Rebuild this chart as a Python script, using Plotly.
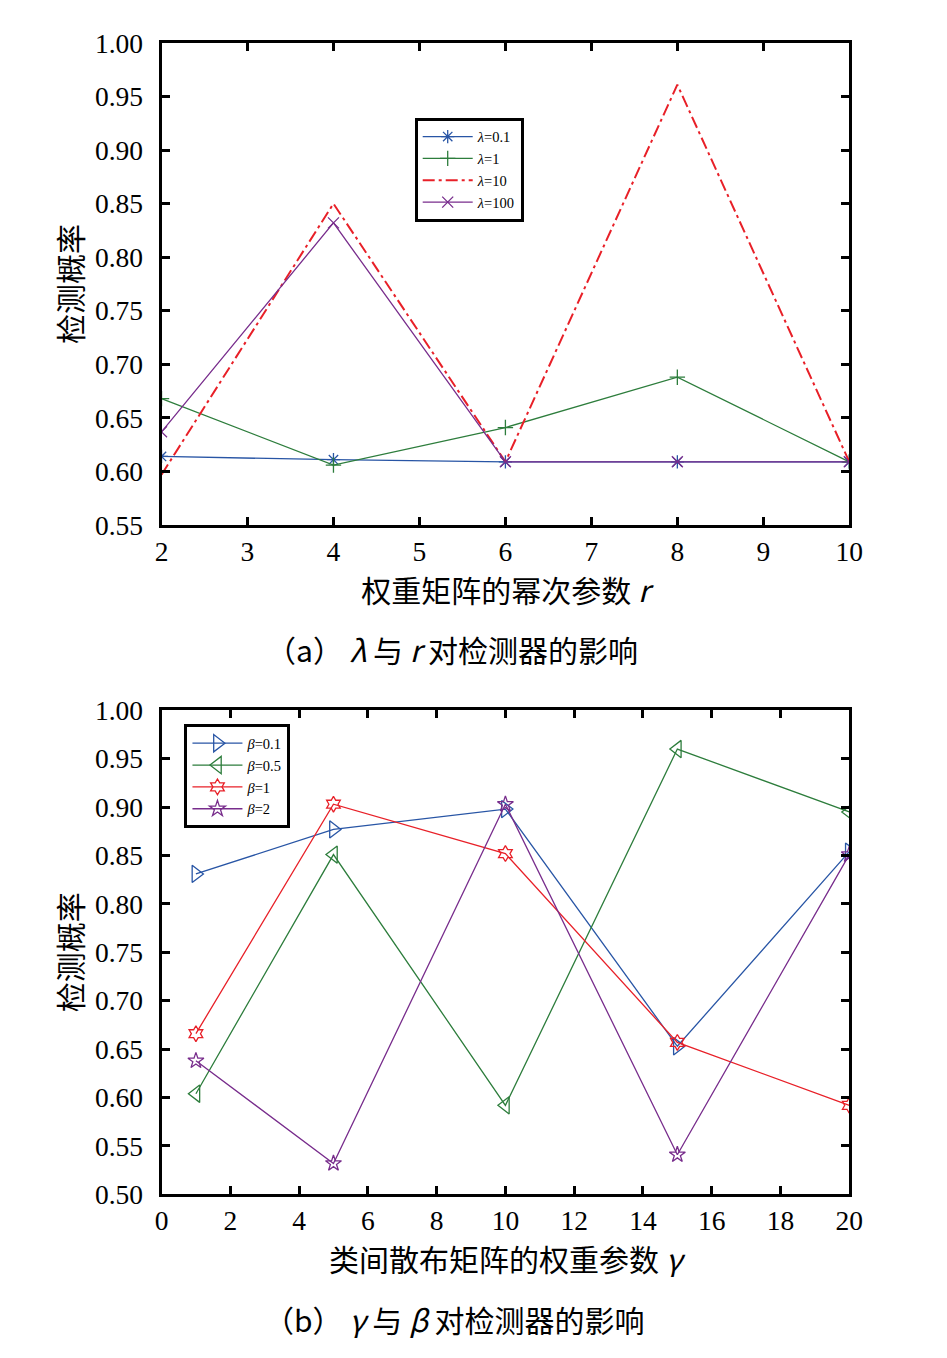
import plotly.graph_objects as go
from plotly.subplots import make_subplots

# top panel: detection probability vs power r, one series per lambda
r_vals = [2, 4, 6, 8, 10]
lam_names = ['<i>λ</i>=0.1', '<i>λ</i>=1', '<i>λ</i>=10', '<i>λ</i>=100']
lam_01 = [0.614, 0.611, 0.609, 0.609, 0.609]
lam_1 = [0.668, 0.606, 0.641, 0.688, 0.609]
lam_10 = [0.597, 0.850, 0.609, 0.961, 0.609]
lam_100 = [0.637, 0.832, 0.609, 0.609, 0.609]

# bottom panel: detection probability vs gamma, one series per beta
gamma_vals = [1, 5, 10, 15, 20]
beta_names = ['<i>β</i>=0.1', '<i>β</i>=0.5', '<i>β</i>=1', '<i>β</i>=2']
beta_01 = [0.831, 0.877, 0.898, 0.653, 0.854]
beta_05 = [0.604, 0.851, 0.592, 0.960, 0.895]
beta_1 = [0.666, 0.903, 0.852, 0.657, 0.592]
beta_2 = [0.638, 0.532, 0.903, 0.541, 0.851]

blue = 'rgb(40,85,165)'
green = 'rgb(45,125,60)'
red = 'rgb(232,32,40)'
purple = 'rgb(120,45,140)'

serif = 'Liberation Serif'
cjk = 'Noto Sans CJK SC'

W, H = 947, 1358
# the captured page comes out slightly shrunk and shifted, so map
# target pixel positions back to figure pixels first
SCALE, DX, DY = 0.981, 13, 22


def px_x(x):
    return ((x - DX) / SCALE) / W


def px_y(y):
    return 1 - ((y - DY) / SCALE) / H


fig = make_subplots(rows=2, cols=1)

top_series = [
    (lam_01, blue, 'asterisk-open', 'solid', 1.3),
    (lam_1, green, 'cross-thin-open', 'solid', 1.3),
    (lam_10, red, None, '12px,4px,3px,4px', 2),
    (lam_100, purple, 'x-thin-open', 'solid', 1.3),
]
for name, (vals, color, sym, dash, w) in zip(lam_names, top_series):
    mode = 'lines' if sym is None else 'lines+markers'
    fig.add_trace(go.Scatter(
        x=r_vals, y=vals, mode=mode, name=name, legend='legend',
        line=dict(color=color, dash=dash, width=w),
        marker=dict(symbol=sym or 'circle', size=11, color=color,
                    line=dict(color=color, width=1.3)),
    ), row=1, col=1)

bottom_series = [
    (beta_01, blue, 'triangle-right-open', 15),
    (beta_05, green, 'triangle-left-open', 15),
    (beta_1, red, 'hexagram-open', 12),
    (beta_2, purple, 'star-open', 12),
]
for name, (vals, color, sym, size) in zip(beta_names, bottom_series):
    fig.add_trace(go.Scatter(
        x=gamma_vals, y=vals, mode='lines+markers', name=name, legend='legend2',
        line=dict(color=color, width=1.3),
        marker=dict(symbol=sym, size=size, color=color,
                    line=dict(color=color, width=1.3)),
    ), row=2, col=1)

axis_style = dict(
    showline=True, linecolor='black', linewidth=3, mirror='allticks',
    ticks='inside', ticklen=8, tickwidth=3, tickcolor='black',
    showgrid=False, zeroline=False,
    tickfont=dict(family=serif, size=27.5, color='black'),
)

fig.update_xaxes(**axis_style)
fig.update_yaxes(**axis_style, ticklabelstandoff=10)

title_font = dict(family=cjk, size=30, color='black')
legend_style = dict(xanchor='left', yanchor='top',
                    bgcolor='white', bordercolor='black', borderwidth=3,
                    font=dict(family=serif, size=14.5, color='black'),
                    tracegroupgap=0, itemwidth=50)

fig.update_layout(
    xaxis=dict(domain=[px_x(160), px_x(850)], range=[2, 10], dtick=1,
               title=dict(text='权重矩阵的幂次参数 <i>r</i>', standoff=0,
                          font=title_font)),
    yaxis=dict(domain=[px_y(526), px_y(42)], range=[0.55, 1.0], dtick=0.05,
               tickformat='.2f',
               title=dict(text='检测概率', standoff=4, font=title_font)),
    xaxis2=dict(domain=[px_x(160), px_x(850)], range=[0, 20], dtick=2,
                title=dict(text='类间散布矩阵的权重参数 <i>γ</i>', standoff=0,
                           font=title_font)),
    yaxis2=dict(domain=[px_y(1198), px_y(712)], range=[0.50, 1.0], dtick=0.05,
                tickformat='.2f',
                title=dict(text='检测概率', standoff=4, font=title_font)),
    legend=dict(x=px_x(414), y=px_y(117), **legend_style),
    legend2=dict(x=px_x(183), y=px_y(726), **legend_style),
    width=W, height=H,
    margin=dict(l=0, r=0, t=0, b=0),
    paper_bgcolor='white', plot_bgcolor='white',
    annotations=[
        dict(text='（a） <i>λ</i> 与 <i>r</i> 对检测器的影响', x=px_x(451), y=px_y(650),
             xref='paper', yref='paper', xanchor='center', yanchor='middle',
             showarrow=False, font=title_font),
        dict(text='（b） <i>γ</i> 与 <i>β</i> 对检测器的影响', x=px_x(454), y=px_y(1323),
             xref='paper', yref='paper', xanchor='center', yanchor='middle',
             showarrow=False, font=title_font),
    ],
)

fig.write_html("out.html")
